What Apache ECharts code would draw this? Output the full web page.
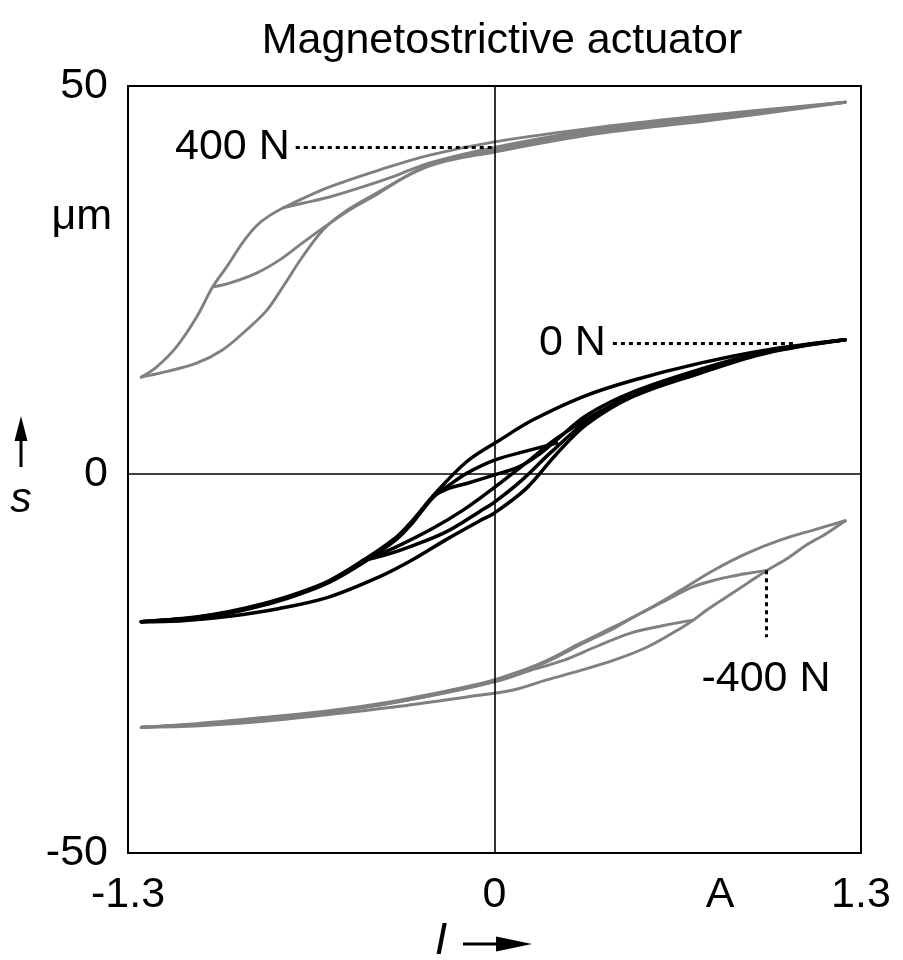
<!DOCTYPE html>
<html>
<head>
<meta charset="utf-8">
<script src="https://cdn.jsdelivr.net/npm/echarts@6/dist/echarts.min.js"></script>
<style>html,body{margin:0;padding:0;background:#fff}#c{width:903px;height:960px}</style>
</head>
<body>
<div id="c"></div>
<script>
// ---------- text ----------
const chartTitle = 'Magnetostrictive actuator';
const xTickValues = [-1.3, 0, 0.8, 1.3];
const xTickLabels = ['-1.3', '0', 'A', '1.3'];
const xMin = -1.3, xMax = 1.3;
const yMin = -48.8, yMax = 50;
const yTickValues = [yMin, 0, yMax];
const yTickLabels = ['-50', '0', '50'];
const yUnitLabel = 'μm';
const yAxisSymbol = 's';
const xAxisSymbol = 'I';

// ---------- 400 N (grey, top) ----------
const n400Down = [[1.244,47.9],[0.775,46.3],[0.374,44.7],[0,42.8],[-0.23,41.1],[-0.407,39.2],[-0.585,37.0],[-0.727,34.7],[-0.798,33.3],[-0.844,32.0],[-0.894,29.8],[-0.95,26.7],[-1.0,24.1],[-1.057,20.2],[-1.128,16.4],[-1.199,13.8],[-1.253,12.5]];
const n400Up = [[-1.253,12.5],[-1.176,13.1],[-1.057,14.3],[-0.965,16.0],[-0.879,18.6],[-0.808,21.1],[-0.751,24.1],[-0.681,28.0],[-0.61,31.4],[-0.539,33.6],[-0.443,35.7],[-0.23,39.7],[0,41.5],[0.374,43.9],[0.775,45.6],[1.244,47.9]];
const n400RevA = [[-1.0,24.1],[-0.94,24.6],[-0.844,25.9],[-0.762,27.6],[-0.681,29.8],[-0.585,32.3],[-0.52,33.9],[-0.443,35.5],[-0.23,39.9],[0,41.8],[0.374,44.2],[0.775,45.9],[1.244,47.9]];
const n400RevB = [[-0.751,34.3],[-0.681,34.9],[-0.585,35.7],[-0.468,37.0],[-0.347,38.5],[-0.23,40.1],[0,42.1],[0.374,44.5],[0.775,46.1],[1.244,47.9]];

// ---------- 0 N (black, middle) ----------
const n0Down = [[1.244,17.3],[0.966,16.0],[0.729,14.3],[0.492,12.1],[0.315,10.0],[0.137,7.0],[0.019,4.4],[-0.099,1.6],[-0.218,-2.8],[-0.289,-5.9],[-0.348,-8.1],[-0.466,-11.1],[-0.585,-13.7],[-0.703,-15.4],[-0.821,-16.7],[-0.94,-17.7],[-1.058,-18.4],[-1.176,-18.8],[-1.253,-19.0]];
const n0Up = [[-1.253,-19.0],[-1.117,-18.9],[-0.94,-18.3],[-0.762,-17.3],[-0.585,-15.8],[-0.407,-13.2],[-0.289,-11.0],[-0.17,-8.4],[-0.052,-6.0],[0,-5.0],[0.114,-1.8],[0.22,2.6],[0.327,6.4],[0.492,10.0],[0.729,13.0],[0.966,15.6],[1.244,17.3]];
const n0RevLeftA = [[-0.466,-11.1],[-0.395,-10.5],[-0.289,-9.2],[-0.17,-7.4],[-0.052,-4.8],[0,-3.6],[0.09,-1.0],[0.2,2.8],[0.327,6.8],[0.492,10.3],[0.729,13.2],[0.966,15.7],[1.244,17.3]];
const n0RevLeftB = [[-0.218,-2.8],[-0.16,-1.8],[-0.099,-1.2],[0,-0.1],[0.09,1.0],[0.16,2.6],[0.22,4.4],[0.327,7.6],[0.492,10.6],[0.729,13.5],[0.966,15.8],[1.244,17.3]];
const n0RevRightB = [[0.22,4.0],[0.115,3.0],[0,1.8],[-0.099,0.1],[-0.16,-1.4],[-0.218,-3.0],[-0.289,-6.2],[-0.348,-8.4],[-0.466,-11.4],[-0.585,-13.9],[-0.703,-15.6],[-0.821,-16.9],[-0.94,-17.9],[-1.058,-18.5],[-1.253,-19.0]];
const n0RevRightA = [[0.47,9.8],[0.35,7.6],[0.22,4.6],[0.11,1.4],[0,-1.7],[-0.11,-4.6],[-0.22,-7.0],[-0.35,-9.4],[-0.466,-11.3],[-0.585,-13.8],[-0.703,-15.5],[-0.821,-16.8],[-0.94,-17.8],[-1.058,-18.45],[-1.253,-19.0]];

// ---------- -400 N (grey, bottom) ----------
const m400Up = [[-1.253,-32.6],[-1.046,-32.4],[-0.809,-31.8],[-0.573,-30.9],[-0.336,-29.9],[-0.099,-28.7],[0.066,-27.8],[0.185,-26.5],[0.303,-25.3],[0.421,-24.0],[0.54,-22.3],[0.658,-19.9],[0.705,-18.8],[0.753,-17.5],[0.824,-15.8],[0.895,-14.1],[0.966,-12.4],[1.037,-10.9],[1.108,-9.1],[1.179,-7.6],[1.244,-6.0]];
const m400Down = [[1.244,-6.0],[1.131,-7.2],[1.013,-8.5],[0.895,-10.2],[0.776,-12.4],[0.658,-15.0],[0.54,-17.5],[0.421,-19.7],[0.303,-21.8],[0.185,-24.0],[0.066,-25.7],[-0.052,-27.0],[-0.336,-29.1],[-0.573,-30.4],[-0.809,-31.3],[-1.046,-32.1],[-1.253,-32.6]];
const m400RevA = [[0.966,-12.4],[0.895,-12.8],[0.835,-13.2],[0.776,-13.7],[0.705,-14.5],[0.611,-16.2],[0.517,-17.95],[0.421,-19.9],[0.303,-22.0],[0.185,-24.2],[0.066,-25.9],[-0.052,-27.2],[-0.336,-29.3],[-0.573,-30.6],[-0.809,-31.5],[-1.046,-32.2],[-1.253,-32.6]];
const m400RevB = [[0.705,-18.8],[0.599,-19.5],[0.48,-20.5],[0.362,-22.2],[0.244,-24.0],[0.125,-25.3],[0.007,-26.7],[-0.336,-29.3],[-0.573,-30.6],[-0.809,-31.5],[-1.046,-32.2],[-1.253,-32.6]];

// ---------- annotations (label, leader start, leader end) ----------
const annot400 = {text: '400 N', from: [-0.705, 42.07], to: [0, 42.07]};
const annot0 = {text: '0 N', from: [0.42, 16.84], to: [1.073, 16.84]};
const annotM400 = {text: '-400 N', from: [0.963, -12.37], to: [0.963, -21.0]};

const FONT = '"Liberation Sans", Arial, Helvetica, sans-serif';
const GREY = '#808080';
const BLACK = '#000000';
const FS = 43;

function curve(name, data, color, width, extra) {
  return Object.assign({
    name: name, type: 'line', data: data, showSymbol: false, symbol: 'none',
    smooth: 0.35, silent: true, animation: false,
    lineStyle: {color: color, width: width, cap: 'round', join: 'round'},
    itemStyle: {color: color}, z: color === GREY ? 2 : 3
  }, extra || {});
}
function leader(a, position, distance) {
  return {
    silent: true, symbol: ['none', 'none'], animation: false,
    lineStyle: {color: BLACK, width: 3, type: [4, 4]},
    label: {show: true, position: position, distance: distance, formatter: a.text,
            fontSize: FS, color: BLACK, fontFamily: FONT},
    emphasis: {disabled: true},
    data: [[{coord: a.from}, {coord: a.to}]]
  };
}

const chart = echarts.init(document.getElementById('c'), null, {renderer: 'canvas'});
const option = {
  backgroundColor: '#ffffff',
  animation: false,
  title: {
    text: chartTitle, left: 497, top: 15, textAlign: 'center',
    textStyle: {fontSize: FS, fontWeight: 'normal', color: BLACK, fontFamily: FONT}
  },
  grid: {left: 128, right: 42, top: 86, bottom: 107, show: true,
         borderColor: BLACK, borderWidth: 2, backgroundColor: 'transparent'},
  xAxis: {
    type: 'value', min: xMin, max: xMax,
    axisLine: {show: false}, axisTick: {show: false}, splitLine: {show: false},
    axisLabel: {
      customValues: xTickValues, showMinLabel: true, showMaxLabel: true,
      formatter: function (v) {
        for (let i = 0; i < xTickValues.length; i++) if (Math.abs(v - xTickValues[i]) < 1e-6) return xTickLabels[i];
        return '';
      },
      fontSize: FS, color: BLACK, fontFamily: FONT, margin: 21
    }
  },
  yAxis: {
    type: 'value', min: yMin, max: yMax,
    axisLine: {show: false}, axisTick: {show: false}, splitLine: {show: false},
    axisLabel: {
      customValues: yTickValues, showMinLabel: true, showMaxLabel: true,
      formatter: function (v) {
        for (let i = 0; i < yTickValues.length; i++) if (Math.abs(v - yTickValues[i]) < 1e-6) return yTickLabels[i];
        return '';
      },
      fontSize: FS, color: BLACK, fontFamily: FONT, margin: 20
    }
  },
  series: [
    curve('400 N descending', n400Down, GREY, 2.9, {
      markLine: {
        silent: true, symbol: ['none', 'none'], animation: false,
        lineStyle: {color: BLACK, width: 1.6, type: 'solid'},
        label: {show: false}, emphasis: {disabled: true},
        data: [{xAxis: 0}, {yAxis: 0}]
      }
    }),
    curve('400 N ascending', n400Up, GREY, 2.9),
    curve('400 N reversal -1.0 A', n400RevA, GREY, 2.9),
    curve('400 N reversal -0.75 A', n400RevB, GREY, 2.9, {markLine: leader(annot400, 'start', 6)}),
    curve('-400 N ascending', m400Up, GREY, 2.9),
    curve('-400 N descending', m400Down, GREY, 2.9),
    curve('-400 N reversal 1.0 A', m400RevA, GREY, 2.9),
    curve('-400 N reversal 0.75 A', m400RevB, GREY, 2.9, {markLine: leader(annotM400, 'end', 20)}),
    curve('0 N descending', n0Down, BLACK, 3.5),
    curve('0 N ascending', n0Up, BLACK, 3.5),
    curve('0 N reversal left A', n0RevLeftA, BLACK, 3.5),
    curve('0 N reversal left B', n0RevLeftB, BLACK, 3.5),
    curve('0 N reversal right B', n0RevRightB, BLACK, 3.5),
    curve('0 N reversal right A', n0RevRightA, BLACK, 3.5, {markLine: leader(annot0, 'start', 7)})
  ],
  graphic: [
    {type: 'text', x: 112, y: 217, style: {text: yUnitLabel, fontSize: FS, fontFamily: FONT, fill: BLACK, align: 'right', verticalAlign: 'middle'}},
    {type: 'line', shape: {x1: 21, y1: 467, x2: 21, y2: 438}, style: {stroke: BLACK, lineWidth: 3}},
    {type: 'polygon', shape: {points: [[21, 416], [14.5, 441], [27.5, 441]]}, style: {fill: BLACK}},
    {type: 'text', x: 21, y: 500, style: {text: yAxisSymbol, fontSize: FS, fontStyle: 'italic', fontFamily: FONT, fill: BLACK, align: 'center', verticalAlign: 'middle'}},
    {type: 'text', x: 441, y: 941, style: {text: xAxisSymbol, fontSize: 45, fontStyle: 'italic', fontFamily: FONT, fill: BLACK, align: 'center', verticalAlign: 'middle'}},
    {type: 'line', shape: {x1: 463, y1: 944, x2: 500, y2: 944}, style: {stroke: BLACK, lineWidth: 3}},
    {type: 'polygon', shape: {points: [[532, 944], [496, 936.5], [496, 951.5]]}, style: {fill: BLACK}}
  ]
};
chart.setOption(option);
</script>
</body>
</html>
